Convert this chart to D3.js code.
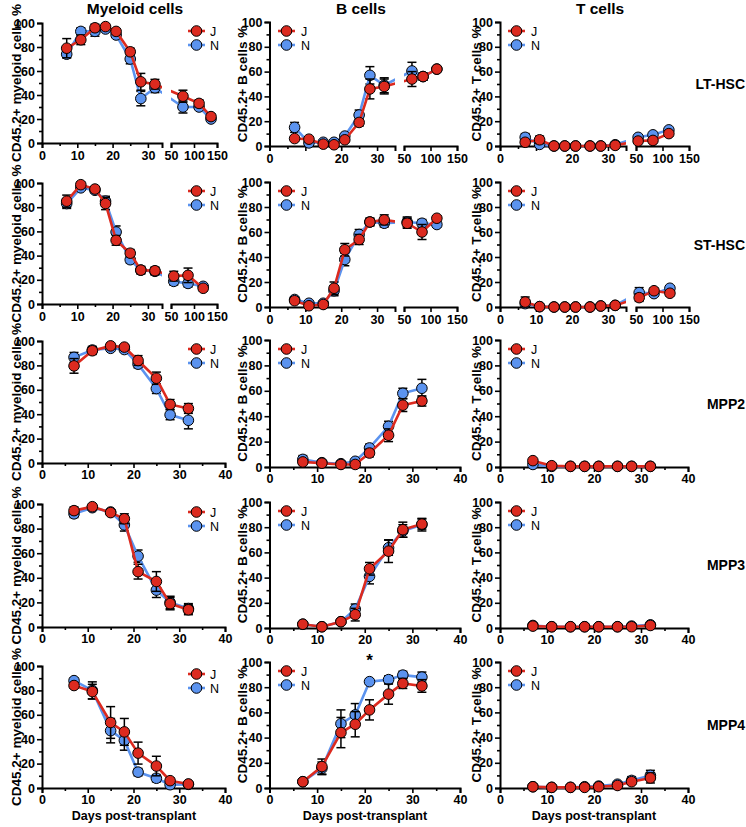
<!DOCTYPE html>
<html><head><meta charset="utf-8">
<script src="https://cdn.jsdelivr.net/npm/d3@7"></script>
<style>
body{margin:0;background:#fff}
svg text{font-family:Arial,"Liberation Sans",sans-serif}
</style>
</head><body>
<svg id="c" width="746" height="827"></svg>
<script>
// ---------------- DATA ----------------
const earlyDays = [7, 11, 15, 18, 21, 25, 28, 32];
const colTitles = ["Myeloid cells", "B cells", "T cells"];
const yTitles = ["CD45.2+ myeloid cells %", "CD45.2+ B cells %", "CD45.2+ T cells %"];
const rowNames = ["LT-HSC", "ST-HSC", "MPP2", "MPP3", "MPP4"];
const seriesNames = ["J", "N"];
const yTicks = [0, 20, 40, 60, 80, 100];
const brokenTicks1 = [0, 10, 20, 30];
const brokenTicks2 = [50, 100, 150];
const linearTicks = [0, 10, 20, 30, 40];
const xTitle = "Days post-transplant";

// LT-HSC
const ltMyDays = [7, 11, 15, 18, 21, 25, 28, 32, 76, 111, 137];
const ltMyJ = [79, 86, 96, 97, 93, 76, 51, 49, 39, 33, 22];
const ltMyJe = [8, 4, 3, 2, 2, 3, 7, 4, 5, 3, 2];
const ltMyN = [74, 93, 93, 95, 90, 70, 37, 46, 30, 30, 20];
const ltMyNe = [3, 3, 4, 2, 2, 4, 6, 4, 5, 2, 1];
const ltBDays = [7, 11, 15, 18, 21, 25, 28, 32, 65, 86, 112];
const ltBJ = [6, 5.5, 1.5, 1, 5, 19, 46, 48, 54, 56, 62];
const ltBJe = [1, 2, 1, 1, 1, 3, 8, 6, 6, 3, 1];
const ltBN = [15, 2.5, 3, 3, 8, 25, 57, 49, 60.5, 56, 62];
const ltBNe = [4, 1, 1, 1, 1, 4, 7, 6, 7, 3, 1];
const ltTDays = [7, 11, 15, 18, 21, 25, 28, 32, 54, 82, 112];
const ltTJ = [3, 5, 0, 0, 0, 0, 0, 0.5, 4, 4.5, 10];
const ltTJe = [2, 3, 0, 0, 0, 0, 0, 0.5, 1, 1, 2];
const ltTN = [7, 1.3, 0, 0, 0, 0, 0, 1, 7, 9, 13];
const ltTNe = [3, 3, 0, 0, 0, 0, 0, 1, 1, 1, 1];
// ST-HSC
const stMyDays = [7, 11, 15, 18, 21, 25, 28, 32, 56, 87, 120];
const stMyJ = [85, 98.6, 95, 83, 52.6, 42, 28, 27.5, 23, 23.7, 13];
const stMyJe = [5, 2, 2, 5, 4, 3, 3, 3, 4, 6, 2];
const stMyN = [83, 96, 94, 85, 59.5, 36.6, 28, 27, 18.7, 17, 14.6];
const stMyNe = [4, 2, 2, 4, 5, 3, 3, 3, 3, 3, 2];
const stBDays = [7, 11, 15, 18, 21, 25, 28, 32, 56, 84, 112];
const stBJ = [5, 1, 2, 15, 45.8, 54, 68, 69.7, 67, 60, 71];
const stBJe = [2, 1, 1, 5, 5, 4, 3, 4, 4, 6, 2];
const stBN = [6, 3, 3, 13, 38, 58, 68, 67, 68, 67, 66];
const stBNe = [2, 1, 1, 4, 5, 4, 3, 3, 4, 3, 2];
const stTDays = [7, 11, 15, 18, 21, 25, 28, 32, 56, 84, 114];
const stTJ = [4, 0.3, 0, 0, 0, 0, 0.8, 1.3, 7.5, 13, 11];
const stTJe = [4, 0.5, 0, 0, 0, 0, 1, 1, 3, 2, 2];
const stTN = [2.7, 0.3, 0, 0, 0, 0, 0.8, 1.3, 11.5, 10.7, 15];
const stTNe = [3, 0.5, 0, 0, 0, 0, 1, 1, 4, 2, 2];
// MPP2
const mpp2MyJ = [79.6, 92, 96, 95, 84, 69.5, 48, 44.7];
const mpp2MyJe = [6, 3, 2, 2, 4, 5, 4, 4];
const mpp2MyN = [86.6, 92.6, 94, 93, 81, 61, 39.5, 35];
const mpp2MyNe = [4, 3, 2, 2, 3, 4, 4, 7];
const mpp2BJ = [4, 3, 2, 2, 11, 25, 48.7, 52];
const mpp2BJe = [2, 1, 1, 1, 3, 5, 5, 4];
const mpp2BN = [6, 3.4, 2.6, 4.5, 15, 32, 58, 62];
const mpp2BNe = [3, 1, 1, 1, 3, 4, 4, 7];
const mpp2TJ = [5, 1, 0.5, 0.5, 0.5, 0.5, 0.5, 0.5];
const mpp2TJe = [1, 0.5, 0, 0, 0, 0, 0, 0];
const mpp2TN = [2, 0.5, 0.5, 0.5, 0.5, 0.5, 0.5, 0.5];
const mpp2TNe = [1, 0.5, 0, 0, 0, 0, 0, 0];
// MPP3
const mpp3MyJ = [94.6, 97.8, 93, 88, 45, 37, 19, 14];
const mpp3MyJe = [3, 1, 2, 4, 6, 8, 5, 4];
const mpp3MyN = [92, 97, 93.5, 83, 57.6, 30, 20, 15];
const mpp3MyNe = [3, 1, 2, 5, 5, 6, 5, 4];
const mpp3BJ = [3, 1, 5, 10.6, 47, 61, 78, 82.5];
const mpp3BJe = [1, 1, 1, 5, 5, 9, 6, 4];
const mpp3BN = [3, 1, 5, 15, 41, 63.7, 77, 82];
const mpp3BNe = [1, 1, 1, 4, 6, 6, 5, 5];
const mpp3TJ = [1.5, 1, 1, 1, 1, 1, 1, 2];
const mpp3TJe = [0.5, 0, 0, 0, 0, 0, 0.5, 0.5];
const mpp3TN = [2, 1, 1, 1, 1, 1, 1.5, 2.5];
const mpp3TNe = [0.5, 0, 0, 0, 0, 0, 0.5, 0.5];
// MPP4
const mpp4MyJ = [84, 79, 53.7, 46, 28.6, 18, 6, 3.3];
const mpp4MyJe = [2, 6, 13, 11, 9, 8, 2, 1];
const mpp4MyN = [88, 80, 47, 39, 13, 8, 2.7, 3];
const mpp4MyNe = [2, 7, 10, 8, 3, 3, 1, 1];
const mpp4BJ = [5, 17, 44, 50.6, 62, 74.5, 83, 81];
const mpp4BJe = [1, 6, 12, 10, 8, 8, 4, 5];
const mpp4BN = [5, 15.6, 51, 58, 84.4, 86, 89.6, 88];
const mpp4BNe = [1, 5, 11, 9, 2, 3, 3, 4];
const mpp4TJ = [1, 0.5, 0.5, 0.5, 1, 2, 5, 8];
const mpp4TJe = [0.5, 0.5, 0.5, 0.5, 0.5, 1, 2, 4];
const mpp4TN = [1, 0.5, 0.5, 1, 1.5, 3, 6, 10];
const mpp4TNe = [0.5, 0.5, 0.5, 0.5, 1, 2, 3, 4];
const starDay = 21, starValue = 97;

// ---------------- BUILD ----------------
const rows = [
  {broken: true, cells: [
    {days: ltMyDays, J: ltMyJ, Je: ltMyJe, N: ltMyN, Ne: ltMyNe},
    {days: ltBDays, J: ltBJ, Je: ltBJe, N: ltBN, Ne: ltBNe, hideTen: true},
    {days: ltTDays, J: ltTJ, Je: ltTJe, N: ltTN, Ne: ltTNe, hideTen: true}]},
  {broken: true, cells: [
    {days: stMyDays, J: stMyJ, Je: stMyJe, N: stMyN, Ne: stMyNe},
    {days: stBDays, J: stBJ, Je: stBJe, N: stBN, Ne: stBNe},
    {days: stTDays, J: stTJ, Je: stTJe, N: stTN, Ne: stTNe}]},
  {broken: false, cells: [
    {days: earlyDays, J: mpp2MyJ, Je: mpp2MyJe, N: mpp2MyN, Ne: mpp2MyNe},
    {days: earlyDays, J: mpp2BJ, Je: mpp2BJe, N: mpp2BN, Ne: mpp2BNe},
    {days: earlyDays, J: mpp2TJ, Je: mpp2TJe, N: mpp2TN, Ne: mpp2TNe}]},
  {broken: false, cells: [
    {days: earlyDays, J: mpp3MyJ, Je: mpp3MyJe, N: mpp3MyN, Ne: mpp3MyNe},
    {days: earlyDays, J: mpp3BJ, Je: mpp3BJe, N: mpp3BN, Ne: mpp3BNe},
    {days: earlyDays, J: mpp3TJ, Je: mpp3TJe, N: mpp3TN, Ne: mpp3TNe}]},
  {broken: false, cells: [
    {days: earlyDays, J: mpp4MyJ, Je: mpp4MyJe, N: mpp4MyN, Ne: mpp4MyNe},
    {days: earlyDays, J: mpp4BJ, Je: mpp4BJe, N: mpp4BN, Ne: mpp4BNe, star: true},
    {days: earlyDays, J: mpp4TJ, Je: mpp4TJe, N: mpp4TN, Ne: mpp4TNe}]}
];

// layout (pixels)
const colLayout = [
  {left: 42, right: 225, s1End: 162, s2Start: 171, bRight: 217, seg1Max: 34, legX: 188, ytX: 21, titleX: 135, xtX: 134},
  {left: 269.5, right: 460, s1End: 395, s2Start: 404, bRight: 457, seg1Max: 35, legX: 278, ytX: 247, titleX: 361, xtX: 365},
  {left: 500, right: 688, s1End: 626, s2Start: 636, bRight: 689, seg1Max: 35, legX: 508, ytX: 481, titleX: 600, xtX: 594}
];
const rowY1 = [[23, 143], [183, 304], [341, 463], [504, 627], [666, 788]];
const rowY2 = [[22, 146], [182, 307], [340, 467], [502, 628], [662, 788]];

const RED = "#dc2a1f", BLUE = "#5b93ef";
const svg = d3.select("#c");
const FONT = "Arial, 'Liberation Sans', sans-serif";

function styleAxis(g, fs) {
  g.select(".domain").attr("stroke", "#000").attr("stroke-width", 2);
  g.selectAll(".tick line").attr("stroke", "#000").attr("stroke-width", 1.6);
  g.selectAll(".tick text").attr("fill", "#000").style("font-size", fs + "px")
    .style("font-weight", "bold").style("font-family", FONT);
}

let clipId = 0;
rows.forEach((row, ri) => {
  row.cells.forEach((cell, ci) => {
    const L = colLayout[ci];
    const [top, bottom] = (ci === 0 ? rowY1 : rowY2)[ri];
    const g = svg.append("g");
    const y = d3.scaleLinear().domain([0, 100]).range([bottom, top]);
    let xf;
    let clipRects;
    if (row.broken) {
      const s1 = d3.scaleLinear().domain([0, L.seg1Max]).range([L.left, L.s1End]);
      const s2 = d3.scaleLinear().domain([50, 150]).range([L.s2Start, L.bRight]);
      xf = d => d < 42 ? s1(d) : s2(d);
      const a1 = g.append("g").attr("transform", `translate(0,${bottom})`)
        .call(d3.axisBottom(s1).tickValues(brokenTicks1).tickSizeOuter(0).tickSize(5).tickPadding(3)
          .tickFormat(d => (cell.hideTen && d === 10) ? "" : d));
      styleAxis(a1, 12.5);
      const m1 = g.append("g").attr("transform", `translate(0,${bottom})`)
        .call(d3.axisBottom(s1).tickValues([5, 15, 25]).tickSize(3).tickFormat(""));
      m1.select(".domain").remove(); styleAxis(m1, 12);
      const a2 = g.append("g").attr("transform", `translate(0,${bottom})`)
        .call(d3.axisBottom(s2).tickValues(brokenTicks2).tickSizeOuter(0).tickSize(5).tickPadding(3));
      styleAxis(a2, 12.5);
      clipRects = [[L.left - 10, L.s1End], [L.s2Start, L.bRight + 12]];
    } else {
      const s = d3.scaleLinear().domain([0, 40]).range([L.left, L.right]);
      xf = s;
      const a = g.append("g").attr("transform", `translate(0,${bottom})`)
        .call(d3.axisBottom(s).tickValues(linearTicks).tickSizeOuter(0).tickSize(5).tickPadding(2));
      styleAxis(a, 12.5);
      const m = g.append("g").attr("transform", `translate(0,${bottom})`)
        .call(d3.axisBottom(s).tickValues([5, 15, 25, 35]).tickSize(3).tickFormat(""));
      m.select(".domain").remove(); styleAxis(m, 12);
      clipRects = [[L.left - 10, L.right + 12]];
    }
    // y axis
    const ya = g.append("g").attr("transform", `translate(${L.left},0)`)
      .call(d3.axisLeft(y).tickValues(yTicks).tickSizeOuter(0).tickSize(5).tickPadding(2));
    styleAxis(ya, 12.5);
    const ym = g.append("g").attr("transform", `translate(${L.left},0)`)
      .call(d3.axisLeft(y).tickValues([10, 30, 50, 70, 90]).tickSize(3).tickFormat(""));
    ym.select(".domain").remove(); styleAxis(ym, 12);

    // y title
    g.append("text").attr("transform", `translate(${L.ytX},${(top + bottom) / 2}) rotate(-90)`)
      .attr("text-anchor", "middle").style("font-size", "13.5px").style("font-weight", "bold")
      .text(yTitles[ci]);

    // clip
    const id = "clip" + (clipId++);
    const cp = svg.append("clipPath").attr("id", id);
    clipRects.forEach(([a, b]) => cp.append("rect").attr("x", a).attr("y", top - 20)
      .attr("width", b - a).attr("height", bottom - top + 30));

    const series = [
      {vals: cell.N, errs: cell.Ne, color: BLUE},
      {vals: cell.J, errs: cell.Je, color: RED}
    ];
    const line = d3.line().x((d, i) => xf(cell.days[i])).y(d => y(d));
    series.forEach(s => {
      const sg = g.append("g");
      s.vals.forEach((v, i) => {
        const e = s.errs[i];
        if (!e) return;
        const x = xf(cell.days[i]);
        const y1 = y(Math.max(0, v - e)), y2 = y(v + e);
        sg.append("line").attr("x1", x).attr("x2", x).attr("y1", y1).attr("y2", y2)
          .attr("stroke", "#000").attr("stroke-width", 1.5);
        [y1, y2].forEach(yy => sg.append("line").attr("x1", x - 4.5).attr("x2", x + 4.5)
          .attr("y1", yy).attr("y2", yy).attr("stroke", "#000").attr("stroke-width", 1.5));
      });
      sg.append("path").datum(s.vals).attr("d", line).attr("fill", "none")
        .attr("stroke", s.color).attr("stroke-width", 2.6).attr("clip-path", `url(#${id})`);
      sg.selectAll("circle").data(s.vals).join("circle")
        .attr("cx", (d, i) => xf(cell.days[i])).attr("cy", d => y(d)).attr("r", 5.3)
        .attr("fill", s.color).attr("stroke", "#000").attr("stroke-width", 1);
    });

    // legend
    const legOff = ci === 0 ? [8, 22] : [9, 23];
    [{name: seriesNames[0], color: RED}, {name: seriesNames[1], color: BLUE}].forEach((s, k) => {
      const ly = top + legOff[k];
      g.append("line").attr("x1", L.legX).attr("x2", L.legX + 17).attr("y1", ly).attr("y2", ly)
        .attr("stroke", s.color).attr("stroke-width", 2.6);
      g.append("circle").attr("cx", L.legX + 8.5).attr("cy", ly).attr("r", 5.3)
        .attr("fill", s.color).attr("stroke", "#000").attr("stroke-width", 1);
      g.append("text").attr("x", L.legX + (ci === 0 ? 22 : 23)).attr("y", ly + 4.5)
        .style("font-size", "12.5px").text(s.name);
    });

    if (cell.star) {
      g.append("text").attr("x", xf(starDay)).attr("y", y(starValue)).attr("text-anchor", "middle")
        .style("font-size", "17px").style("font-weight", "bold").text("*");
    }
    if (ri === rows.length - 1) {
      g.append("text").attr("x", L.xtX).attr("y", 820).attr("text-anchor", "middle")
        .style("font-size", "12.5px").style("font-weight", "bold").text(xTitle);
    }
    if (ri === 0) {
      g.append("text").attr("x", L.titleX).attr("y", 14).attr("text-anchor", "middle")
        .style("font-size", "15.5px").style("font-weight", "bold").text(colTitles[ci]);
    }
  });
  const [t2, b2] = rowY2[ri];
  svg.append("text").attr("x", 745).attr("y", (t2 + b2) / 2 + 5).attr("text-anchor", "end")
    .style("font-size", "14px").style("font-weight", "bold").text(rowNames[ri]);
});
</script>
</body></html>
